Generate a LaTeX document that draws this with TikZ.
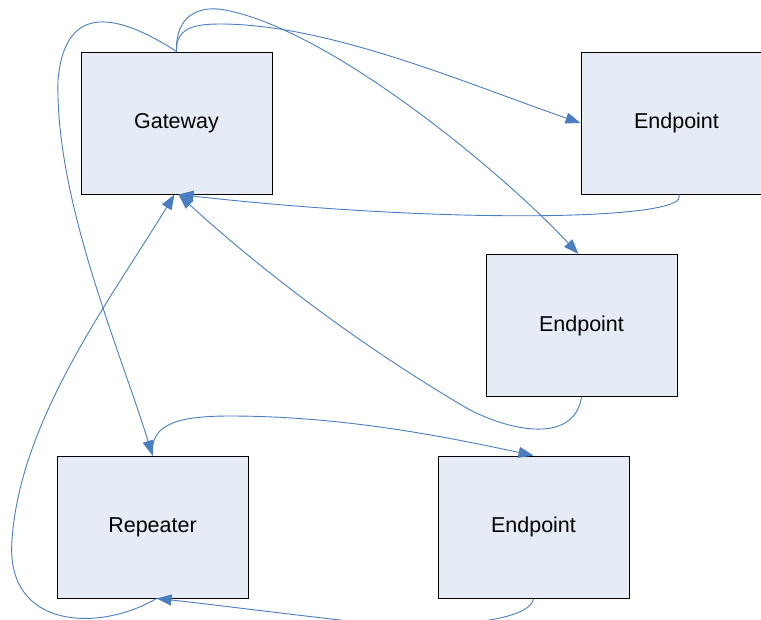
\documentclass[tikz,border=0pt]{standalone}
\usepackage{fontspec}
\setmainfont{Liberation Sans}
\usetikzlibrary{arrows.meta,positioning}
\definecolor{boxfill}{RGB}{230, 236, 246}
\definecolor{linkblue}{RGB}{74, 126, 193}

\tikzset{
  device/.style={draw=black, line width=1pt, fill=boxfill, minimum width=191pt,
    minimum height=142pt, inner sep=0pt, font=\fontsize{21.5}{25}\selectfont},
  link/.style={draw=linkblue, line width=0.9pt, -{Triangle[length=15pt,width=11pt]}}
}

\begin{document}
\begin{tikzpicture}[x=1pt, y=-1pt]
            \useasboundingbox (0,0) rectangle (761,619);
            \clip (0,0) rectangle (761,619);

            % Devices
            \node[device] (gateway)  at (176.5,123)   {Gateway};
            \node[device] (endA)     at (676.5,123)   {Endpoint};
            \node[device] (endB)     at (581.5,325.5) {Endpoint};
            \node[device] (repeater) at (152.5,527)   {Repeater};
            \node[device] (endC)     at (533.5,527)   {Endpoint};

            % Gateway out
            \draw[link] (gateway.north) .. controls (176,30) and (190,24) .. (220,24)
                .. controls (330,24) and (470,85) .. (endA.west);
            \draw[link] (gateway.north) .. controls (175,15) and (200,5) .. (225,10)
                .. controls (330,30) and (500,170) .. ([xshift=-3pt]endB.north);
            \draw[link] (gateway.north) .. controls (120,15) and (65,0) .. (58,80)
                .. controls (55,200) and (120,350) .. (repeater.north);

            % Endpoints back to gateway
            \draw[link] ([xshift=2pt]endA.south) .. controls (695,220) and (450,225) .. ([xshift=2pt]gateway.south);
            \draw[link] (endB.south) .. controls (575,440) and (520,435) .. (470,410)
                .. controls (350,340) and (250,260) .. ([xshift=2pt]gateway.south);

            % Repeater
            \draw[link] (repeater.north) .. controls (150,425) and (175,416) .. (230,416)
                .. controls (350,416) and (460,440) .. (endC.north);
            \draw[link] (endC.south) .. controls (530,625) and (420,630) .. (340,620)
                .. controls (270,612) and (200,603) .. ([xshift=4pt]repeater.south);
            \draw[link] ([xshift=4pt]repeater.south) .. controls (100,632) and (5,630) .. (12,540)
                .. controls (20,420) and (110,300) .. ([xshift=-2pt]gateway.south);
        \end{tikzpicture}
\end{document}
